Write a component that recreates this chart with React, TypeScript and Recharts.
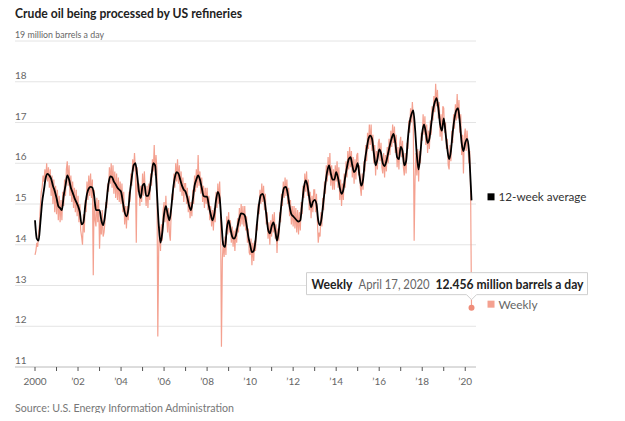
import React from 'react';
import { LineChart, Line, XAxis, YAxis, CartesianGrid, ReferenceDot } from 'recharts';

// Crude oil input to US refineries, million barrels a day
const FIRST_YEAR = 2000;

// Weekly readings, two per month (1st and 16th)
const weeklyByYear: number[][] = [
  [13.75, 13.85, 14.05, 13.95, 14.3, 14.5, 14.95, 15.3, 15.4, 15.7, 15.55, 15.85, 15.6, 16.0, 15.55, 15.9, 15.4, 15.85, 15.2, 15.7, 15.0, 15.6, 14.8, 15.45],
  [14.75, 15.35, 14.6, 15.2, 14.55, 15.1, 14.6, 15.3, 14.95, 15.6, 15.2, 15.85, 16.05, 15.45, 15.95, 15.2, 15.7, 15.05, 15.55, 14.9, 15.4, 14.8, 15.35, 14.7],
  [15.2, 14.55, 15.0, 14.35, 14.2, 14.0, 14.75, 14.3, 15.1, 14.8, 15.55, 15.1, 15.7, 15.2, 15.75, 15.15, 15.6, 13.25, 15.35, 14.6, 14.45, 15.15, 14.55, 15.1],
  [13.9, 14.6, 14.25, 14.85, 14.2, 14.3, 14.55, 15.05, 14.9, 15.5, 15.3, 15.9, 15.5, 16.0, 15.4, 15.95, 15.25, 15.8, 15.15, 15.75, 15.1, 15.65, 15.05, 15.55],
  [15.0, 15.5, 14.8, 15.3, 14.5, 14.95, 14.4, 14.95, 14.6, 15.3, 15.05, 15.75, 15.45, 16.1, 15.8, 16.25, 15.85, 14.05, 15.9, 15.3, 15.5, 14.95, 15.45, 15.05],
  [15.75, 15.2, 15.8, 15.3, 14.95, 15.45, 14.9, 15.5, 15.1, 15.75, 15.45, 16.1, 15.8, 16.45, 15.7, 16.2, 15.85, 11.75, 13.9, 14.45, 13.85, 14.5, 14.1, 14.85],
  [15.05, 14.55, 15.2, 14.65, 14.3, 14.9, 14.25, 14.1, 14.85, 15.25, 15.1, 15.75, 15.4, 16.0, 15.55, 16.1, 15.5, 15.95, 15.3, 15.8, 15.2, 15.65, 15.05, 15.5],
  [15.5, 15.0, 15.4, 14.8, 15.2, 14.65, 15.05, 14.7, 15.35, 15.0, 15.7, 15.3, 15.85, 15.4, 16.2, 15.45, 15.8, 15.25, 15.65, 15.05, 15.45, 14.9, 15.4, 15.0],
  [15.4, 14.85, 15.2, 14.6, 14.95, 14.45, 14.85, 14.35, 14.9, 14.55, 15.3, 14.9, 15.5, 15.0, 15.55, 14.9, 11.5, 13.6, 14.1, 13.7, 14.2, 13.75, 14.7, 14.25],
  [14.8, 14.3, 14.6, 14.05, 14.45, 13.95, 14.35, 13.85, 14.4, 14.05, 14.65, 14.3, 14.9, 14.45, 15.0, 14.5, 14.95, 14.45, 14.95, 14.35, 14.7, 14.05, 14.4, 13.8],
  [13.75, 14.15, 13.5, 14.05, 13.6, 14.1, 13.85, 14.5, 14.35, 15.0, 14.75, 15.35, 15.0, 15.5, 15.05, 15.45, 14.85, 15.25, 14.5, 14.8, 14.15, 14.55, 14.0, 14.6],
  [14.2, 14.75, 14.3, 14.8, 14.15, 14.5, 13.8, 14.4, 14.1, 14.8, 14.55, 15.25, 14.95, 15.55, 15.15, 15.65, 15.2, 15.6, 15.0, 15.4, 14.7, 15.1, 14.5, 14.95],
  [14.45, 14.95, 14.4, 14.9, 14.3, 14.85, 14.25, 14.8, 14.35, 15.05, 14.75, 15.45, 15.15, 15.75, 15.3, 15.8, 15.2, 15.6, 14.85, 15.3, 14.65, 15.2, 14.8, 15.35],
  [15.35, 14.8, 15.25, 14.6, 14.05, 14.3, 14.2, 14.8, 14.45, 15.15, 14.85, 15.55, 15.25, 15.95, 15.55, 16.15, 15.7, 16.25, 15.45, 15.95, 15.35, 15.85, 15.35, 15.95],
  [15.55, 16.05, 15.4, 15.9, 15.1, 15.6, 14.95, 15.5, 15.1, 15.75, 15.4, 16.05, 15.65, 16.3, 15.85, 16.4, 15.9, 16.3, 15.65, 16.15, 15.5, 16.1, 15.6, 16.2],
  [16.25, 15.7, 15.95, 15.4, 15.2, 15.75, 15.35, 16.05, 15.8, 16.45, 16.05, 16.75, 16.35, 16.95, 16.45, 16.95, 16.3, 16.7, 16.0, 16.45, 15.7, 16.3, 15.85, 16.5],
  [16.6, 16.05, 16.5, 15.9, 15.75, 16.25, 15.65, 16.2, 15.8, 16.4, 16.0, 16.6, 16.2, 16.8, 16.4, 16.95, 16.5, 16.9, 16.25, 16.7, 15.9, 16.4, 15.85, 16.5],
  [16.65, 16.15, 16.55, 15.9, 15.7, 16.25, 15.75, 16.5, 16.35, 17.05, 16.75, 17.35, 17.0, 17.5, 17.1, 14.1, 15.6, 16.25, 15.7, 16.35, 15.55, 16.3, 16.0, 16.75],
  [16.55, 17.2, 16.7, 17.15, 16.45, 16.95, 16.25, 16.8, 16.35, 17.05, 16.7, 17.4, 17.05, 17.65, 17.25, 17.95, 17.4, 17.8, 17.1, 17.5, 16.65, 17.2, 16.55, 17.4],
  [17.35, 16.75, 17.0, 16.35, 16.6, 15.95, 15.85, 16.45, 16.05, 16.8, 16.5, 17.2, 16.85, 17.45, 17.05, 17.7, 17.1, 17.55, 16.75, 17.2, 16.2, 16.7, 15.75, 16.65],
  [16.85, 16.3, 16.8, 16.45, 16.0, 16.3, 15.3, 12.456],
];

// 12-week average, first of each month
const avgByYear: number[][] = [
  [14.6, 14.15, 14.1, 14.55, 15.05, 15.35, 15.65, 15.74, 15.7, 15.62, 15.45, 15.32],
  [15.15, 14.95, 14.9, 14.85, 15.2, 15.45, 15.7, 15.6, 15.4, 15.28, 15.15, 15.05],
  [14.95, 14.8, 14.5, 14.55, 14.95, 15.25, 15.38, 15.42, 15.4, 15.2, 14.85, 14.85],
  [14.85, 14.6, 14.48, 14.7, 15.1, 15.5, 15.68, 15.66, 15.55, 15.48, 15.4, 15.35],
  [15.3, 15.05, 14.8, 14.7, 14.85, 15.3, 15.65, 15.95, 16.0, 15.7, 15.3, 15.15],
  [15.45, 15.5, 15.2, 15.2, 15.35, 15.7, 16.0, 15.95, 15.3, 14.5, 14.05, 14.3],
  [14.75, 14.95, 14.75, 14.6, 14.9, 15.35, 15.65, 15.78, 15.75, 15.6, 15.45, 15.35],
  [15.3, 15.15, 14.95, 14.85, 15.1, 15.45, 15.6, 15.7, 15.6, 15.4, 15.2, 15.18],
  [15.18, 14.95, 14.75, 14.6, 14.75, 15.1, 15.3, 15.15, 14.55, 14.0, 13.94, 14.4],
  [14.6, 14.4, 14.2, 14.15, 14.22, 14.45, 14.65, 14.77, 14.76, 14.72, 14.5, 14.2],
  [14.0, 13.82, 13.85, 14.1, 14.6, 15.0, 15.22, 15.25, 15.1, 14.75, 14.38, 14.28],
  [14.45, 14.55, 14.35, 14.1, 14.35, 14.8, 15.2, 15.4, 15.42, 15.25, 14.95, 14.75],
  [14.7, 14.65, 14.6, 14.57, 14.6, 15.0, 15.4, 15.58, 15.45, 15.15, 14.92, 15.05],
  [15.1, 15.0, 14.6, 14.48, 14.7, 15.1, 15.5, 15.8, 15.95, 15.75, 15.6, 15.6],
  [15.78, 15.65, 15.4, 15.25, 15.35, 15.65, 15.9, 16.1, 16.15, 15.95, 15.78, 15.85],
  [16.0, 15.7, 15.45, 15.6, 16.05, 16.35, 16.6, 16.68, 16.6, 16.25, 15.95, 16.1],
  [16.34, 16.25, 16.0, 15.93, 16.05, 16.25, 16.45, 16.62, 16.72, 16.5, 16.15, 16.1],
  [16.4, 16.3, 15.95, 16.05, 16.6, 17.0, 17.2, 17.3, 16.85, 16.2, 15.85, 16.25],
  [16.75, 16.95, 16.75, 16.5, 16.6, 16.95, 17.3, 17.5, 17.6, 17.35, 16.95, 16.8],
  [17.1, 16.75, 16.35, 16.1, 16.3, 16.75, 17.1, 17.3, 17.35, 17.0, 16.5, 16.3],
  [16.5, 16.6, 16.35, 15.55],
];
const AVG_AT_LAST_WEEK = 15.09;
const LAST_WEEK_LABEL = 'April 17, 2020';

const YEAR_TICKS = [2000, 2001, 2002, 2003, 2004, 2005, 2006, 2007, 2008, 2009, 2010, 2011, 2012, 2013, 2014, 2015, 2016, 2017, 2018, 2019, 2020];
const VALUE_TICKS = [11, 12, 13, 14, 15, 16, 17, 18, 19];

const COLORS = {
  weekly: '#f4a190',
  weeklyDot: '#ef8c79',
  average: '#000000',
  grid: '#e4e4e4',
  axis: '#c8c8c8',
  label: '#666666',
  title: '#222222',
};

const SANS = 'Lato, "Noto Sans", sans-serif';
const PLOT_LEFT = 15;

const weeklyData = weeklyByYear.flatMap((vals, k) =>
  vals.map((v, i) => ({ t: FIRST_YEAR + k + i / 24, weekly: v }))
);
const lastWeek = weeklyData[weeklyData.length - 1];
const avgData = avgByYear
  .flatMap((vals, k) => vals.map((v, m) => ({ t: FIRST_YEAR + k + m / 12, avg: v })))
  .concat({ t: lastWeek.t, avg: AVG_AT_LAST_WEEK });

const ValueTick = ({ y, payload }: any) => {
  const v = payload.value;
  const top = v === 19;
  return (
    <text
      x={PLOT_LEFT}
      y={y - 3}
      fontSize={10}
      fill={COLORS.label}
      fontFamily={SANS}
      textLength={top ? 89 : undefined}
      lengthAdjust="spacingAndGlyphs"
    >
      {top ? `${v} million barrels a day` : v}
    </text>
  );
};

const YearTick = ({ x, y, payload }: any) => {
  const yr = payload.value;
  const label = yr % 2 !== 0 ? '' : yr === 2000 ? '2000' : `\u2019${String(yr).slice(2)}`;
  return (
    <g>
      <line x1={x} x2={x} y1={y} y2={y + 4} stroke="#555" strokeWidth={1} />
      {label && (
        <text x={x} y={y + 18} textAnchor="middle" fontSize={10} fill={COLORS.label} fontFamily={SANS}>
          {label}
        </text>
      )}
    </g>
  );
};

// Series name placed next to the final point of each line
const EndLabel = ({ cx, cy, text, color, textColor, width }: any) => (
  <g>
    <rect x={cx + 16} y={cy - 7} width={7} height={7} fill={color} />
    <text
      x={cx + 27}
      y={cy - 3.5}
      dominantBaseline="central"
      fontSize={12}
      fill={textColor}
      fontFamily={SANS}
      textLength={width}
      lengthAdjust="spacingAndGlyphs"
    >
      {text}
    </text>
  </g>
);

const AverageEnd = (props: any) => (
  <EndLabel cx={props.cx} cy={props.cy} text="12-week average" width={88} color={COLORS.average} textColor="#333" />
);

// Last weekly reading: dot, callout box and series name
const WeeklyEnd = (props: any) => {
  const { cx, cy } = props;
  const left = cx - 165;
  const top = cy - 35;
  const w = 281;
  const h = 22;
  const bottom = top + h;
  const mid = top + h / 2 + 0.5;
  return (
    <g>
      <circle cx={cx} cy={cy} r={3} fill={COLORS.weeklyDot} />
      <path
        d={`M${left},${top} H${left + w} V${bottom} H${cx + 5} L${cx},${bottom + 5} L${cx - 5},${bottom} H${left} Z`}
        fill="#fff"
        fillOpacity={0.96}
        stroke="#cfcfcf"
        strokeWidth={1}
      />
      <g fontSize={12.5} fontFamily={SANS} dominantBaseline="central">
        <text x={left + 5} y={mid} fontWeight="bold" fill="#222" textLength={41} lengthAdjust="spacingAndGlyphs">
          Weekly
        </text>
        <text x={left + 52} y={mid} fill="#666" textLength={71} lengthAdjust="spacingAndGlyphs">
          {LAST_WEEK_LABEL}
        </text>
        <text x={left + 129} y={mid} fontWeight="bold" fill="#222" textLength={148} lengthAdjust="spacingAndGlyphs">
          {`${lastWeek.weekly.toFixed(3)} million barrels a day`}
        </text>
      </g>
      <EndLabel cx={cx} cy={cy} text="Weekly" width={39} color={COLORS.weekly} textColor="#666" />
    </g>
  );
};

export default function App() {
  return (
    <div style={{ position: 'relative', width: 625, height: 421, margin: -8, background: '#fff' }}>
      <svg width={625} height={421} style={{ position: 'absolute', left: 0, top: 0 }}>
        <text x={PLOT_LEFT} y={17.5} fontSize={13} fontWeight="bold" fill={COLORS.title} fontFamily={SANS} textLength={227} lengthAdjust="spacingAndGlyphs">
          Crude oil being processed by US refineries
        </text>
        <text x={PLOT_LEFT} y={412} fontSize={10.5} fill="#777" fontFamily={SANS} textLength={219} lengthAdjust="spacingAndGlyphs">
          Source: U.S. Energy Information Administration
        </text>
      </svg>
      <div style={{ position: 'absolute', left: 0, top: 0 }}>
        <LineChart width={625} height={421} margin={{ top: 41, right: 149, bottom: 24, left: PLOT_LEFT - 1 }}>
          <CartesianGrid horizontal vertical={false} stroke={COLORS.grid} />
          <XAxis
            dataKey="t"
            type="number"
            domain={[1999.07, 2020.5]}
            ticks={YEAR_TICKS}
            allowDataOverflow
            height={30}
            tickSize={0}
            tickMargin={0}
            tickLine={false}
            axisLine={{ stroke: COLORS.axis }}
            tick={<YearTick />}
            interval={0}
          />
          <YAxis
            type="number"
            domain={[11, 19]}
            ticks={VALUE_TICKS}
            width={1}
            axisLine={false}
            tickLine={false}
            tick={<ValueTick />}
            interval={0}
          />
          <Line
            data={weeklyData}
            dataKey="weekly"
            type="linear"
            stroke={COLORS.weekly}
            strokeWidth={1.2}
            dot={false}
            isAnimationActive={false}
          />
          <Line
            data={avgData}
            dataKey="avg"
            type="monotone"
            stroke={COLORS.average}
            strokeWidth={1.8}
            dot={false}
            isAnimationActive={false}
          />
          <ReferenceDot x={lastWeek.t} y={AVG_AT_LAST_WEEK} shape={<AverageEnd />} />
          <ReferenceDot x={lastWeek.t} y={lastWeek.weekly} shape={<WeeklyEnd />} />
        </LineChart>
      </div>
    </div>
  );
}
